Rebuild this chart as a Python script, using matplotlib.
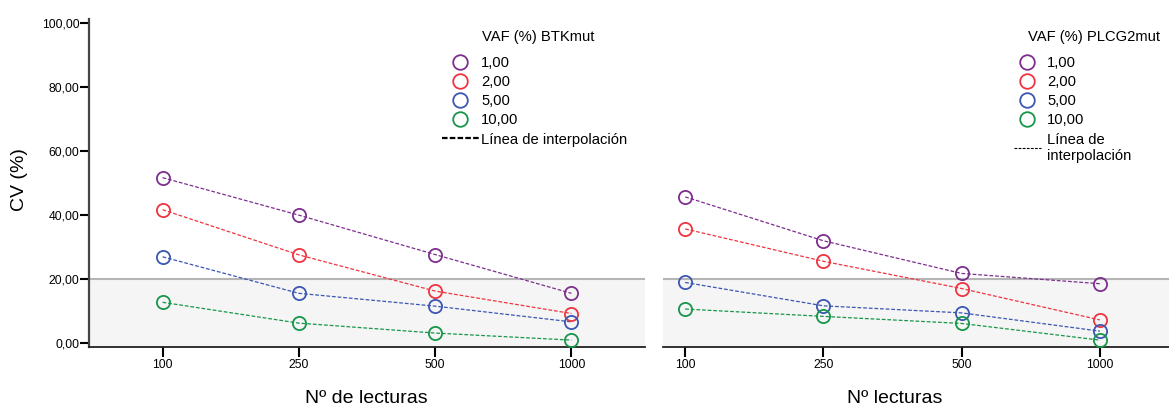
import matplotlib.pyplot as plt
from matplotlib.lines import Line2D

plt.rcParams['font.family'] = ['Liberation Sans', 'DejaVu Sans']

lecturas = ['100', '250', '500', '1000']
vaf_labels = ['1,00', '2,00', '5,00', '10,00']
colores = ['#7d2e8e', '#f0343f', '#3b56b3', '#17964a']

# CV (%) por VAF, BTK
cv_btk = [
    [51.6, 39.9, 27.6, 15.5],
    [41.6, 27.5, 16.2, 9.2],
    [26.9, 15.5, 11.5, 6.6],
    [12.7, 6.2, 3.1, 0.9],
]
# CV (%) por VAF, PLCG2
cv_plcg2 = [
    [45.6, 31.9, 21.7, 18.5],
    [35.6, 25.5, 17.0, 7.2],
    [18.9, 11.6, 9.4, 3.7],
    [10.6, 8.3, 6.1, 0.9],
]
umbral = 20
yticks = [0, 20, 40, 60, 80, 100]
ytick_labels = ['0,00', '20,00', '40,00', '60,00', '80,00', '100,00']

fig = plt.figure(figsize=(11.69, 4.05), dpi=100)
ax1 = fig.add_axes([0.0761, 0.144, 0.4757, 0.809])
ax2 = fig.add_axes([0.5672, 0.144, 0.4328, 0.809])

ylim = (-1.15, 101.1)


def dibujar(ax, datos, xlim):
    x = list(range(len(lecturas)))
    ax.axhspan(ylim[0], umbral, facecolor='#f5f5f5', zorder=0)
    ax.axhline(umbral, color='#b5b5b5', lw=1.5, zorder=1)
    for serie, c in zip(datos, colores):
        ax.plot(x, serie, ls=(0, (3, 1.5)), lw=0.9, color=c, zorder=2)
        ax.plot(x, serie, ls='none', marker='o', ms=9.5, mfc='none',
                mec=c, mew=1.3, zorder=3)
    ax.set_xlim(*xlim)
    ax.set_ylim(*ylim)
    ax.set_xticks(x)
    ax.set_xticklabels(lecturas, fontsize=8.7)
    ax.tick_params(axis='x', direction='out', length=7, width=1.5, pad=2)
    for s in ['top', 'right']:
        ax.spines[s].set_visible(False)
    ax.spines['bottom'].set_linewidth(1.3)
    ax.spines['bottom'].set_color('#222222')
    ax.set_facecolor('none')


dibujar(ax1, cv_btk, (-0.54, 3.54))
dibujar(ax2, cv_plcg2, (-0.16, 3.5))

ax1.set_yticks(yticks)
ax1.set_yticklabels(ytick_labels, fontsize=8.7)
ax1.tick_params(axis='y', direction='out', length=6.5, width=1.5, pad=0.5)
ax1.spines['left'].set_linewidth(1.6)
ax1.spines['left'].set_color('#444444')

ax2.spines['left'].set_visible(False)
ax2.set_yticks([])

fig.text(0.017, 1 - 180 / 405, 'CV (%)', rotation=90, fontsize=14,
         ha='center', va='center')
fig.text(366 / 1169, 1 - 403 / 405, 'Nº de lecturas', fontsize=14,
         ha='center', va='baseline')
fig.text(895 / 1169, 1 - 403 / 405, 'Nº lecturas', fontsize=14,
         ha='center', va='baseline')


def leyenda(ax, titulo, tx, linea_txt, anchor, hl, hpad, lw_dash, dash):
    handles = [Line2D([], [], ls='none', marker='o', ms=10.5, mfc='none',
                      mec=c, mew=1.3) for c in colores]
    handles.append(Line2D([], [], color='black', lw=lw_dash, ls=dash))
    leg = ax.legend(handles, vaf_labels + [linea_txt], loc='upper left',
                    bbox_to_anchor=anchor, bbox_transform=fig.transFigure,
                    frameon=False, fontsize=10.6, borderpad=0,
                    labelspacing=0.35, handlelength=hl, handletextpad=hpad,
                    borderaxespad=0)
    fig.text(tx, 1 - 37 / 405, titulo, fontsize=10.6, ha='left', va='center')
    return leg


leyenda(ax1, 'VAF (%) BTKmut', 482 / 1169, 'Línea de interpolación',
        (442 / 1169, 1 - 56 / 405), 2.5, 0.15, 1.6, (0, (2.5, 1)))
leyenda(ax2, 'VAF (%) PLCG2mut', 1028 / 1169, 'Línea de\ninterpolación',
        (1014 / 1169, 1 - 56 / 405), 1.8, 0.45, 0.8, (0, (2.5, 1.2)))

fig.savefig('out.png', dpi=100)
